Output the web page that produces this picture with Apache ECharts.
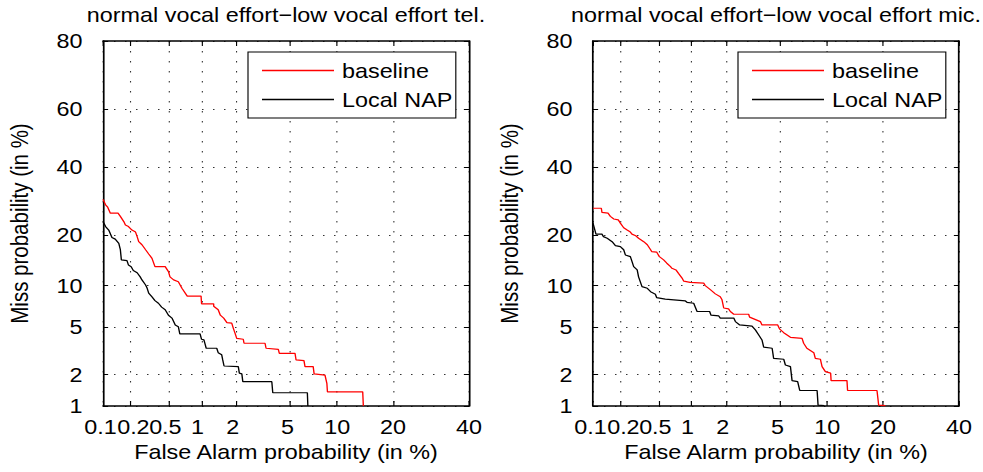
<!DOCTYPE html>
<html><head><meta charset="utf-8">
<script src="https://cdn.jsdelivr.net/npm/echarts@6/dist/echarts.min.js"></script>
<style>
html,body{margin:0;padding:0;background:#fff;overflow:hidden}
#wrap{width:983px;height:472px;overflow:hidden}
#c{height:472px;transform-origin:0 0}
</style>
</head><body><div id="wrap"><div id="c"></div></div>
<script>
// ---- data (percent values) ----
const panelTitles = ['normal vocal effort\u2212low vocal effort tel.', 'normal vocal effort\u2212low vocal effort mic.'];
const seriesNames = ['baseline', 'Local NAP'];
const xTickValues = [0.1, 0.2, 0.5, 1, 2, 5, 10, 20, 40];
const xTickLabels = ['0.1', '0.2', '0.5', '1', '2', '5', '10', '20', '40'];
const yTickValues = [1, 2, 5, 10, 20, 40, 60, 80];
const yTickLabels = ['1', '2', '5', '10', '20', '40', '60', '80'];
const xAxisName = 'False Alarm probability (in %)';
const yAxisName = 'Miss probability (in %)';

// [false alarm %, miss %]
const telBaseline = [[0.10,29.7],[0.107,28.1],[0.113,27.4],[0.121,25.7],[0.147,25.7],[0.156,24.8],[0.170,23.4],[0.177,22.5],[0.191,22.1],[0.208,21.2],[0.227,20.7],[0.236,19.6],[0.245,18.4],[0.265,17.7],[0.289,16.6],[0.311,15.7],[0.336,14.8],[0.36,13.2],[0.455,13.2],[0.49,12.3],[0.507,11.4],[0.55,10.9],[0.61,10.6],[0.66,9.6],[0.74,8.5],[0.99,8.5],[1.0,7.5],[1.28,7.5],[1.28,7.2],[1.40,6.8],[1.46,6.2],[1.56,5.9],[1.66,5.45],[1.82,5.4],[1.88,4.9],[1.94,4.5],[2.0,4.1],[2.26,4.03],[2.29,3.74],[3.33,3.74],[3.39,3.4],[4.17,3.33],[4.24,3.08],[5.46,3.08],[5.55,2.70],[6.27,2.66],[6.37,2.36],[7.2,2.36],[7.3,2.03],[8.54,1.98],[8.77,1.66],[8.84,1.38],[14.07,1.38],[14.18,1.0]];
const telLocalNAP = [[0.10,23.4],[0.107,22.1],[0.116,21.2],[0.126,19.4],[0.137,19.0],[0.150,18.0],[0.156,16.6],[0.16,14.5],[0.184,14.35],[0.191,13.5],[0.204,13.2],[0.215,12.5],[0.236,12.1],[0.254,11.4],[0.265,10.9],[0.289,10.1],[0.30,9.6],[0.311,8.9],[0.336,8.4],[0.36,7.9],[0.39,7.57],[0.42,7.1],[0.455,6.8],[0.49,6.2],[0.53,5.9],[0.57,5.23],[0.61,5.07],[0.63,4.45],[0.97,4.45],[1.0,4.03],[1.05,3.98],[1.08,3.62],[1.10,3.4],[1.36,3.4],[1.40,3.12],[1.50,2.99],[1.53,2.70],[1.57,2.39],[2.06,2.36],[2.10,2.06],[2.20,2.03],[2.24,1.72],[3.74,1.72],[3.80,1.35],[6.6,1.35],[6.65,1.0]];
const micBaseline = [[0.10,27.1],[0.124,27.1],[0.126,25.9],[0.147,25.7],[0.156,24.8],[0.17,24.1],[0.19,23.85],[0.20,23.0],[0.217,21.8],[0.236,21.2],[0.255,20.7],[0.265,20.2],[0.29,19.8],[0.31,19.2],[0.35,18.4],[0.38,17.7],[0.41,16.6],[0.42,16.2],[0.47,16.1],[0.50,15.15],[0.55,14.5],[0.59,13.85],[0.64,13.2],[0.66,12.9],[0.72,12.6],[0.76,12.0],[0.82,11.2],[0.85,10.7],[0.97,10.5],[1.28,10.4],[1.32,10.0],[1.46,9.4],[1.61,8.8],[1.77,8.4],[1.83,8.0],[1.89,7.0],[2.07,6.9],[2.14,6.6],[2.28,6.3],[2.98,6.3],[3.03,6.0],[3.65,5.55],[3.75,5.23],[4.86,5.23],[5.02,4.85],[5.35,4.55],[5.94,4.18],[7.08,4.1],[7.25,3.74],[7.6,3.4],[8.4,3.12],[8.58,2.79],[9.21,2.74],[9.43,2.36],[9.87,2.13],[10.6,2.06],[10.66,1.76],[13.1,1.76],[13.2,1.42],[18.7,1.42],[19.05,1.02],[20.5,1.01]];
const micLocalNAP = [[0.10,23.0],[0.108,20.2],[0.126,20.2],[0.131,19.6],[0.144,19.2],[0.163,18.4],[0.177,17.5],[0.20,17.3],[0.217,16.6],[0.226,15.5],[0.255,15.15],[0.265,14.2],[0.276,13.2],[0.30,12.6],[0.31,11.4],[0.336,9.85],[0.38,9.6],[0.41,9.1],[0.457,8.75],[0.47,8.3],[0.57,8.1],[0.88,7.86],[0.91,7.69],[1.045,7.57],[1.12,6.6],[1.44,6.6],[1.48,6.2],[1.72,6.12],[1.77,5.9],[2.28,5.9],[2.35,5.55],[2.54,5.23],[3.16,5.13],[3.35,4.79],[3.55,4.36],[3.75,3.98],[3.86,3.47],[4.44,3.4],[4.55,2.79],[5.35,2.74],[5.49,2.44],[5.94,2.36],[6.09,1.76],[6.63,1.72],[6.84,1.42],[8.8,1.42],[8.92,1.02],[9.73,1.01]];

// ---- normal-deviate (probit) scale transform ----
function probit(p){
  const a=[-3.969683028665376e+01,2.209460984245205e+02,-2.759285104469687e+02,1.383577518672690e+02,-3.066479806614716e+01,2.506628277459239e+00];
  const b=[-5.447609879822406e+01,1.615858368580409e+02,-1.556989798598866e+02,6.680131188771972e+01,-1.328068155288572e+01];
  const c=[-7.784894002430293e-03,-3.223964580411365e-01,-2.400758277161838e+00,-2.549732539343734e+00,4.374664141464968e+00,2.938163982698783e+00];
  const d=[7.784695709041462e-03,3.224671290700398e-01,2.445134137142996e+00,3.754408661907416e+00];
  const pl=0.02425, ph=1-pl; let q, r;
  if(p<pl){q=Math.sqrt(-2*Math.log(p));return (((((c[0]*q+c[1])*q+c[2])*q+c[3])*q+c[4])*q+c[5])/((((d[0]*q+d[1])*q+d[2])*q+d[3])*q+1);}
  if(p<=ph){q=p-0.5;r=q*q;return (((((a[0]*r+a[1])*r+a[2])*r+a[3])*r+a[4])*r+a[5])*q/(((((b[0]*r+b[1])*r+b[2])*r+b[3])*r+b[4])*r+1);}
  q=Math.sqrt(-2*Math.log(1-p));return -(((((c[0]*q+c[1])*q+c[2])*q+c[3])*q+c[4])*q+c[5])/((((d[0]*q+d[1])*q+d[2])*q+d[3])*q+1);
}
const pz = v => probit(v / 100);
const xTickZ = xTickValues.map(pz);
const yTickZ = yTickValues.map(pz);
const xMin = xTickZ[0], xMax = xTickZ[xTickZ.length - 1];
const yMin = yTickZ[0], yMax = yTickZ[yTickZ.length - 1];
const idxOf = (zs, v) => zs.findIndex(z => Math.abs(z - v) < 1e-6);

// ---- layout: the source figure is horizontally stretched; draw narrower and stretch the container ----
const S = 1.14;
const W = 983 / S;
const el = document.getElementById('c');
el.style.width = W + 'px';
el.style.transform = 'scaleX(' + S + ')';

const FONT = 'Liberation Sans, Arial, Helvetica, sans-serif';
const FS = 20.5;
const FS_TITLE = 20.5;
const gridLeft = [103 / S, 593 / S];
const gridWidth = 366 / S;
const panelCenters = [286 / S, 776 / S];
const panelData = [[telBaseline, telLocalNAP], [micBaseline, micLocalNAP]];
const colors = ['#ff0000', '#000000'];

// small horizontal nudges (screen px) of the crowded x tick labels, as in the source figure
const xLabelNudge = [-2.5, 3, -4, -4, -4, -2, 1, 0, 0];
const xRich = {};
xLabelNudge.forEach((n, i) => {
  const p = Math.abs(n) * 2 / S;
  xRich['t' + i] = { fontSize: FS, color: '#000', fontFamily: FONT, padding: n >= 0 ? [0, 0, 0, p] : [0, p, 0, 0] };
});
const xFmt = v => { const i = idxOf(xTickZ, v); return i >= 0 ? '{t' + i + '|' + xTickLabels[i] + '}' : ''; };
const yFmt = v => { const i = idxOf(yTickZ, v); return i >= 0 ? yTickLabels[i] : ''; };

const dottedV = { color: '#333', width: 1 / S * 1.1, type: [1.5, 8.5] };
const dottedH = { color: '#333', width: 1, type: [1.5 / S, 9.5 / S] };
const frame = { color: '#000', width: 1.5 };

const option = {
  animation: false,
  backgroundColor: '#fff',
  textStyle: { fontFamily: FONT },
  title: panelTitles.map((t, i) => ({
    text: t, left: panelCenters[i], top: 4, textAlign: 'center', padding: 0,
    textStyle: { fontSize: FS_TITLE, fontWeight: 'normal', color: '#000', fontFamily: FONT }
  })),
  legend: [0, 1].map(i => ({
    left: gridLeft[i] + 145 / S, top: 52, orient: 'vertical',
    data: seriesNames,
    icon: 'rect', itemWidth: 72 / S, itemHeight: 1.5, itemGap: 8,
    padding: [8, 3, 8, 14 / S],
    borderColor: '#000', borderWidth: 1, backgroundColor: '#fff', borderRadius: 0,
    textStyle: { fontSize: FS, color: '#000', fontFamily: FONT, padding: [0, 0, 0, 2] },
    selectedMode: false
  })),
  grid: gridLeft.map(gl => ({ left: gl, top: 41, width: gridWidth, height: 365 })),
  xAxis: [],
  yAxis: [],
  series: []
};

gridLeft.forEach((gl, i) => {
  // bottom axis: frame, ticks, grid lines, labels (min label drawn by the extra axis below)
  option.xAxis.push({
    type: 'value', gridIndex: i, position: 'bottom', min: xMin, max: xMax,
    name: xAxisName, nameLocation: 'middle', nameGap: 35,
    nameTextStyle: { fontSize: FS, color: '#000', fontFamily: FONT },
    axisLine: { show: true, onZero: false, lineStyle: frame },
    axisTick: { show: true, inside: true, length: 5, customValues: xTickZ, lineStyle: { color: '#000' } },
    axisLabel: { show: true, customValues: xTickZ, formatter: xFmt, rich: xRich, margin: 10,
      showMinLabel: false, showMaxLabel: true,
      fontSize: FS, color: '#000', fontFamily: FONT },
    splitLine: { show: true, lineStyle: dottedV }
  });
  // top axis: frame + inner ticks
  option.xAxis.push({
    type: 'value', gridIndex: i, position: 'top', min: xMin, max: xMax,
    axisLine: { show: true, onZero: false, lineStyle: frame },
    axisTick: { show: true, inside: true, length: 5, customValues: xTickZ, lineStyle: { color: '#000' } },
    axisLabel: { show: false, customValues: xTickZ },
    splitLine: { show: false }
  });
  // extra bottom axis carrying only the first (0.1) label
  option.xAxis.push({
    type: 'value', gridIndex: i, position: 'bottom', min: xMin, max: xMax,
    axisLine: { show: false, onZero: false },
    axisTick: { show: false },
    axisLabel: { show: true, customValues: [xTickZ[0]], formatter: xFmt, rich: xRich, margin: 10,
      showMinLabel: true, fontSize: FS, color: '#000', fontFamily: FONT },
    splitLine: { show: false }
  });
  option.yAxis.push({
    type: 'value', gridIndex: i, position: 'left', min: yMin, max: yMax,
    name: yAxisName, nameLocation: 'middle', nameGap: 62,
    nameTextStyle: { fontSize: FS, color: '#000', fontFamily: FONT },
    axisLine: { show: true, onZero: false, lineStyle: frame },
    axisTick: { show: true, inside: true, length: 4.5, customValues: yTickZ, lineStyle: { color: '#000' } },
    axisLabel: { show: true, customValues: yTickZ, formatter: yFmt, margin: 18,
      showMinLabel: true, showMaxLabel: true,
      fontSize: FS, color: '#000', fontFamily: FONT },
    splitLine: { show: true, lineStyle: dottedH }
  });
  option.yAxis.push({
    type: 'value', gridIndex: i, position: 'right', min: yMin, max: yMax,
    axisLine: { show: true, onZero: false, lineStyle: frame },
    axisTick: { show: true, inside: true, length: 4.5, customValues: yTickZ, lineStyle: { color: '#000' } },
    axisLabel: { show: false, customValues: yTickZ },
    splitLine: { show: false }
  });
  panelData[i].forEach((arr, k) => {
    option.series.push({
      type: 'line', name: seriesNames[k], xAxisIndex: 3 * i, yAxisIndex: 2 * i,
      data: arr.map(p => [pz(p[0]), pz(p[1])]),
      symbol: 'none', showSymbol: false, clip: true,
      color: colors[k],
      lineStyle: { color: colors[k], width: 1.2 },
      z: 3 + (1 - k)
    });
  });
});

const chart = echarts.init(el, null, { renderer: 'svg', width: W, height: 472 });
chart.setOption(option);
</script>
</body></html>
